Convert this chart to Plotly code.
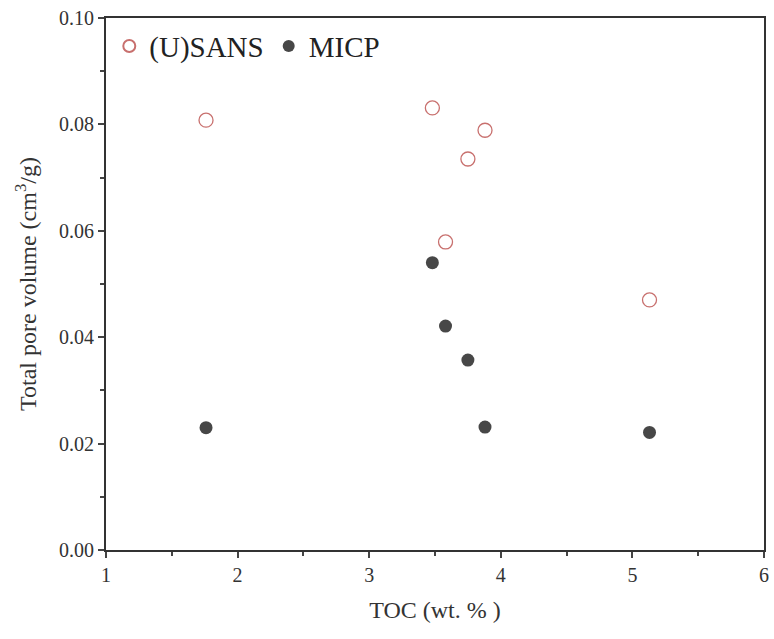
import plotly.graph_objects as go

toc = [1.76, 3.48, 3.58, 3.75, 3.88, 5.13]
sans = [0.0808, 0.0831, 0.0579, 0.0735, 0.0789, 0.047]
micp = [0.0230, 0.0540, 0.0421, 0.0357, 0.0231, 0.0221]

fig = go.Figure()
fig.add_trace(go.Scatter(x=toc, y=sans, mode="markers", name="(U)SANS",
                         marker=dict(symbol="circle-open", size=14, color="#c8706e", line=dict(width=1.3))))
fig.add_trace(go.Scatter(x=toc, y=micp, mode="markers", name="MICP",
                         marker=dict(symbol="circle", size=13, color="#474747")))

font = "Liberation Serif, Times New Roman, serif"
fig.update_layout(
    width=774, height=639,
    margin=dict(l=106, r=10, t=18, b=89, autoexpand=False),
    paper_bgcolor="white", plot_bgcolor="white",
    font=dict(family=font, color="#333333"),
    showlegend=True,
    legend=dict(x=0.005, y=0.995, xanchor="left", yanchor="top", orientation="h",
                font=dict(size=29, family=font, color="#222222"), bgcolor="rgba(0,0,0,0)",
                itemsizing="constant"),
    xaxis=dict(range=[1, 6], tickvals=[1, 2, 3, 4, 5, 6], ticks="outside", ticklen=6, tickwidth=1.5,
               showline=True, linecolor="#333333", linewidth=2, mirror=True, showgrid=False, zeroline=False,
               automargin=False,
               tickfont=dict(size=20), minor=dict(tickvals=[1.5, 2.5, 3.5, 4.5, 5.5], ticks="outside", ticklen=4, tickwidth=1.5),
               title=dict(text="TOC (wt. % )", font=dict(size=24), standoff=16)),
    yaxis=dict(range=[0, 0.1], tickvals=[0, 0.02, 0.04, 0.06, 0.08, 0.1], tickformat=".2f", ticks="outside",
               ticklen=6, tickwidth=1.5, showline=True, linecolor="#333333", linewidth=2, mirror=True,
               automargin=False,
               showgrid=False, zeroline=False, tickfont=dict(size=20),
               minor=dict(tickvals=[0.01, 0.03, 0.05, 0.07, 0.09], ticks="outside", ticklen=4, tickwidth=1.5),
               title=dict(text="Total pore volume (cm<sup>3</sup>/g)", font=dict(size=24), standoff=16)),
)
fig.write_html("out.html", config={"displayModeBar": False},
               post_script="document.body.style.margin='0px';")
